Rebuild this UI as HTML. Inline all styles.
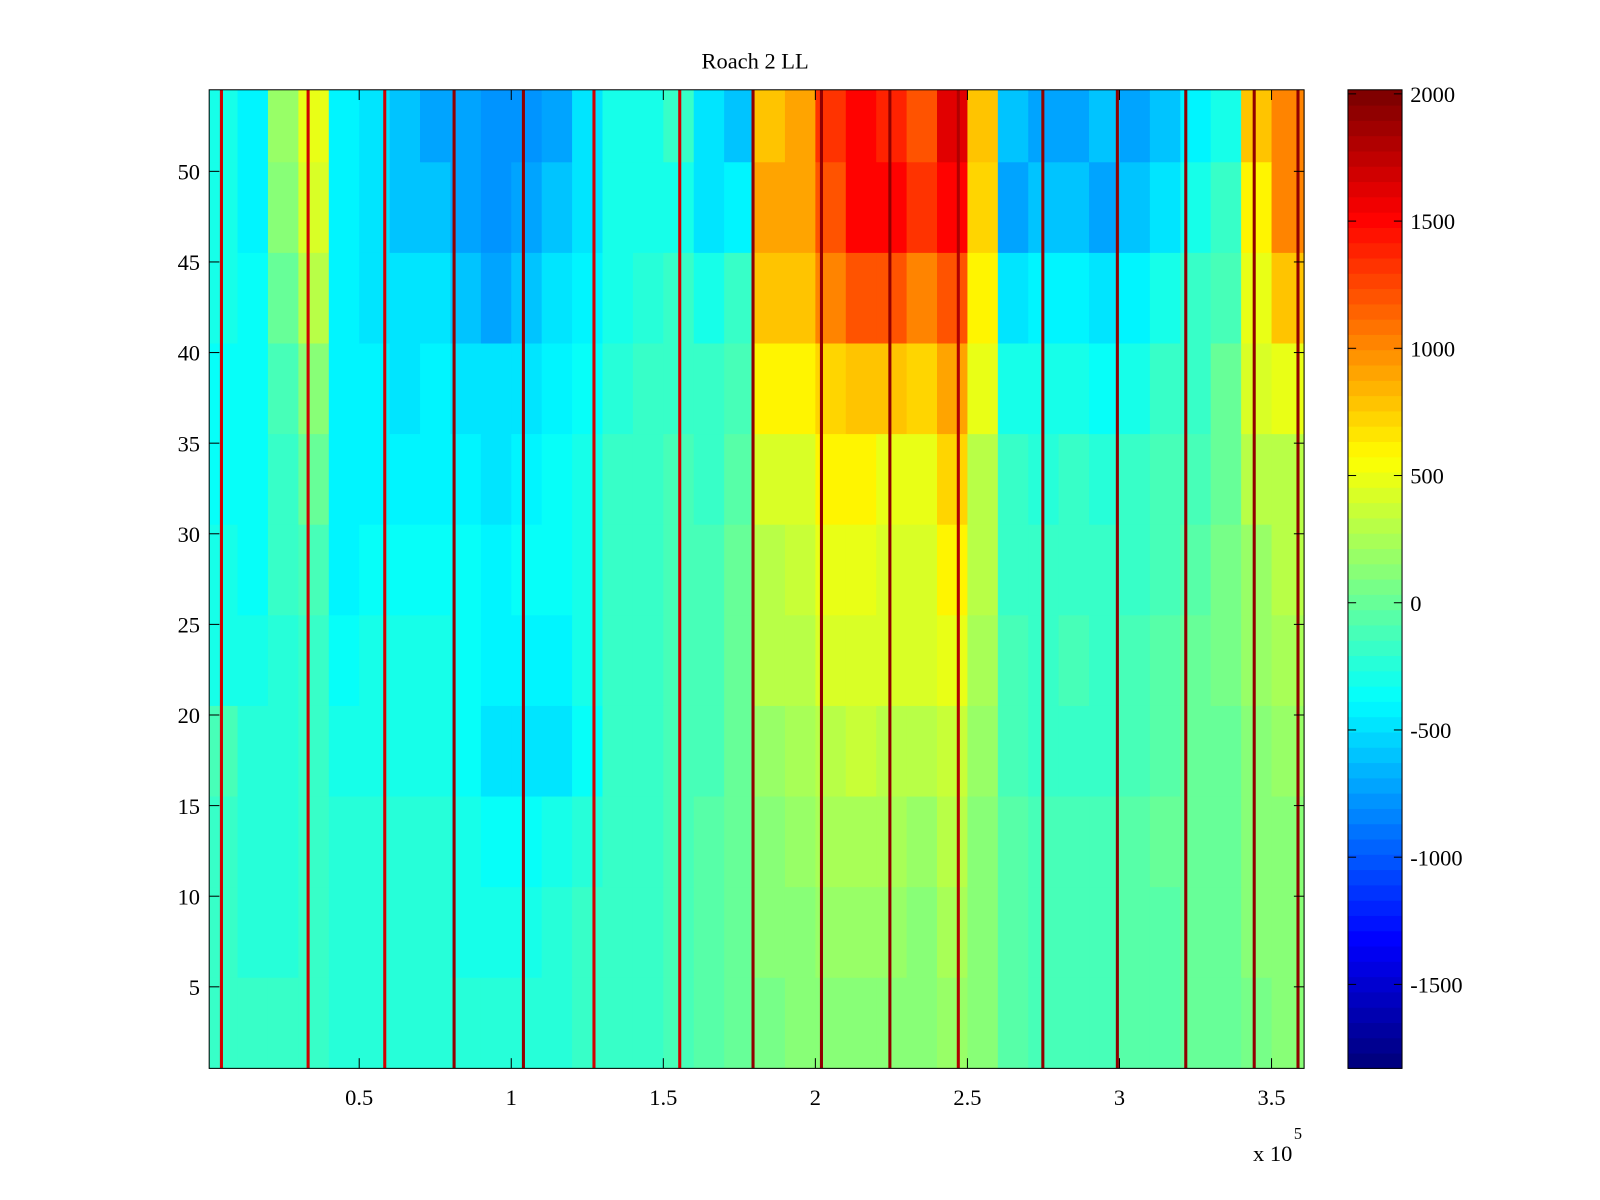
<!DOCTYPE html>
<html><head><meta charset="utf-8"><style>
html,body{margin:0;padding:0;background:#fff;}
svg{display:block;}
text{font-family:"Liberation Serif",serif;font-size:22px;fill:#000;}
</style></head><body>
<svg id="chart" width="1600" height="1200" viewBox="0 0 1568 1176" xmlns="http://www.w3.org/2000/svg">
<text x="740" y="67" text-anchor="middle">Roach 2 LL</text>
<g id="cells"></g>
<g id="spikes"></g>
<rect x="205" y="88" width="1073" height="959" fill="none" stroke="#000" stroke-width="1"/>
<g id="axes"></g>
<g id="cbar"></g>
<text x="1228" y="1138">x 10</text>
<text x="1268" y="1116" style="font-size:16px">5</text>
</svg>
<script>
// column band edges (x in units of 1e5), row bands (top to bottom)
const xEdges = [0,0.1,0.2,0.3,0.4,0.5,0.6,0.7,0.8,0.9,1.0,1.1,1.2,1.3,1.4,1.5,1.6,1.7,1.8,1.9,2.0,2.1,2.2,2.3,2.4,2.5,2.6,2.7,2.8,2.9,3.0,3.1,3.2,3.3,3.4,3.5,3.61];
const yBands = [[50.5,54.5],[45.5,50.5],[40.5,45.5],[35.5,40.5],[30.5,35.5],[25.5,30.5],[20.5,25.5],[15.5,20.5],[10.5,15.5],[5.5,10.5],[0.5,5.5]];
const band0 = [-300,-400,200,500,-400,-500,-600,-700,-700,-800,-800,-700,-500,-300,-300,-200,-500,-600,800,900,1300,1500,1400,1200,1600,800,-600,-700,-700,-600,-700,-600,-400,-300,800,1000];
const band1 = [-300,-400,100,400,-400,-500,-600,-600,-700,-800,-700,-600,-500,-300,-300,-300,-500,-400,900,900,1200,1500,1500,1300,1500,700,-700,-600,-600,-700,-600,-500,-300,-200,600,1000];
const band2 = [-300,-350,0,300,-400,-450,-500,-500,-600,-700,-600,-500,-400,-300,-250,-200,-300,-200,800,800,1000,1200,1200,1000,1200,600,-500,-400,-400,-500,-400,-300,-200,-100,500,800];
const band3 = [-350,-350,-100,100,-400,-400,-450,-400,-450,-500,-450,-400,-350,-250,-200,-150,-200,-100,600,600,700,800,800,700,900,500,-300,-300,-300,-350,-300,-200,-150,0,400,500];
const band4 = [-350,-350,-200,0,-400,-400,-400,-400,-400,-450,-400,-350,-300,-200,-150,-100,-150,-50,400,400,600,600,500,500,700,300,-200,-250,-200,-250,-200,-100,-100,0,300,300];
const band5 = [-300,-350,-200,-100,-400,-350,-350,-350,-350,-400,-350,-350,-300,-200,-150,-100,-100,0,300,350,500,500,400,400,600,300,-150,-200,-150,-200,-150,-100,-50,50,200,300];
const band6 = [-300,-300,-250,-150,-350,-300,-300,-300,-350,-400,-400,-400,-300,-150,-150,-100,-100,0,300,300,400,400,400,400,500,250,-100,-150,-100,-150,-100,-50,0,50,200,250];
const band7 = [-100,-250,-250,-200,-300,-300,-300,-300,-350,-450,-500,-500,-350,-200,-150,-100,-100,0,200,250,300,350,300,300,350,200,-100,-150,-150,-150,-100,-50,0,0,150,200];
const band8 = [-150,-250,-250,-200,-250,-250,-250,-250,-300,-350,-350,-300,-250,-150,-150,-100,-50,0,150,200,250,250,250,200,300,150,-50,-100,-100,-100,-50,0,0,0,100,150];
const band9 = [-200,-250,-250,-200,-250,-250,-250,-250,-300,-300,-300,-250,-200,-150,-150,-100,-50,0,100,150,200,200,200,150,250,100,-50,-100,-100,-100,-50,-50,0,0,100,100];
const band10 = [-200,-200,-200,-200,-250,-250,-250,-250,-250,-250,-250,-250,-200,-150,-150,-100,-50,0,50,100,150,150,150,100,200,100,-50,-100,-100,-100,-50,-50,0,0,50,100];
const bands = [band0,band1,band2,band3,band4,band5,band6,band7,band8,band9,band10];
const spikeX = [0.047,0.332,0.584,0.812,1.040,1.272,1.554,1.795,2.020,2.245,2.470,2.748,2.993,3.218,3.443,3.587];
const spikeVal = [1700,1700,1700,1950,1950,1700,1700,1950,1950,1950,1800,1950,1950,1950,1950,1950];
const xTicks = [0.5,1,1.5,2,2.5,3,3.5];
const xTickLabels = ["0.5","1","1.5","2","2.5","3","3.5"];
const yTicks = [5,10,15,20,25,30,35,40,45,50];
const cTicks = [-1500,-1000,-500,0,500,1000,1500,2000];

const NS="http://www.w3.org/2000/svg";
const X0=205,X1=1278,Y0=88,Y1=1047;
const xMin=0.0067,xMax=3.607,yMin=0.5,yMax=54.5,cMin=-1830,cMax=2016;
const sx=v=>X0+(v-xMin)/(xMax-xMin)*(X1-X0);
const sy=v=>Y1-(v-yMin)/(yMax-yMin)*(Y1-Y0);
const cy=v=>Y1-(v-cMin)/(cMax-cMin)*(Y1-Y0);
function jet(v){let t=(v-cMin)/(cMax-cMin);t=Math.max(0,Math.min(1,t));t=Math.floor(t*63.999)/63;
 const c=x=>Math.round(255*Math.max(0,Math.min(1,1.5-Math.abs(x))));
 return `rgb(${c(4*t-3)},${c(4*t-2)},${c(4*t-1)})`;}
function mk(tag,attrs,parent){const e=document.createElementNS(NS,tag);for(const k in attrs)e.setAttribute(k,attrs[k]);parent.appendChild(e);return e;}

const cells=document.getElementById('cells');
bands.forEach((row,bi)=>{row.forEach((v,ci)=>{
 const xa=Math.max(sx(xEdges[ci]),X0),xb=Math.min(sx(xEdges[ci+1]),X1);
 const ya=sy(yBands[bi][1]),yb=sy(yBands[bi][0]);
 const r=mk('rect',{x:xa,y:ya,width:xb-xa+0.5,height:yb-ya+0.5,fill:jet(v)},cells);
 
 
});});
const sp=document.getElementById('spikes');
spikeX.forEach((x,i)=>{
 const r=mk('rect',{x:sx(x)-1.5,y:Y0,width:3,height:Y1-Y0,fill:jet(spikeVal[i])},sp);
 
 
});
const ax=document.getElementById('axes');
xTicks.forEach((v,i)=>{const x=sx(v);
 mk('line',{x1:x,x2:x,y1:Y1,y2:Y1-10,stroke:'#000'},ax);
 mk('line',{x1:x,x2:x,y1:Y0,y2:Y0+10,stroke:'#000'},ax);
 const t=mk('text',{x:x,y:Y1+36,'text-anchor':'middle'},ax);t.textContent=xTickLabels[i];
 
 
});
yTicks.forEach(v=>{const y=sy(v);
 mk('line',{x1:X0,x2:X0+10,y1:y,y2:y,stroke:'#000'},ax);
 mk('line',{x1:X1,x2:X1-10,y1:y,y2:y,stroke:'#000'},ax);
 const t=mk('text',{x:X0-9,y:y+8,'text-anchor':'end'},ax);t.textContent=v;
 
 
});
const cb=document.getElementById('cbar');
const CX0=1321,CX1=1374;
for(let i=0;i<64;i++){const v0=cMin+(cMax-cMin)*i/64,v1=cMin+(cMax-cMin)*(i+1)/64;
 const r=mk('rect',{x:CX0,y:cy(v1),width:CX1-CX0,height:cy(v0)-cy(v1)+0.5,fill:jet((v0+v1)/2)},cb);
 
 
}
mk('rect',{x:CX0,y:Y0,width:CX1-CX0,height:Y1-Y0,fill:'none',stroke:'#000'},cb);
cTicks.forEach(v=>{const y=cy(v);
 mk('line',{x1:CX0,x2:CX0+8,y1:y,y2:y,stroke:'#000'},cb);
 mk('line',{x1:CX1,x2:CX1-8,y1:y,y2:y,stroke:'#000'},cb);
 const t=mk('text',{x:CX1+8,y:y+8},cb);t.textContent=v;
 
 
});
</script>
</body></html>
